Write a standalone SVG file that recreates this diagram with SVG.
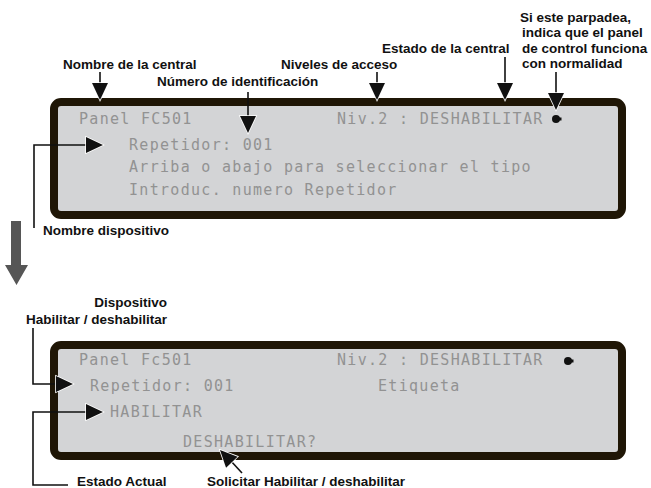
<svg xmlns="http://www.w3.org/2000/svg" width="651" height="488" viewBox="0 0 651 488">
<style>
.panel{fill:#d3d4d6;stroke:#1f1606;stroke-width:8}
.lcd{font-family:"DejaVu Sans Mono","Liberation Mono",monospace;font-size:15px;letter-spacing:1.3px;fill:#929292}
.lbl{font-family:"Liberation Sans",Arial,sans-serif;font-size:13.5px;font-weight:bold;fill:#111}
.ln{fill:none;stroke:#111;stroke-width:1.6}
.ah{fill:#111;stroke:#fff;stroke-width:1.6;paint-order:stroke;stroke-linejoin:miter}
.dot{fill:#111}
</style>
<defs>
<path id="head" d="M0,0 L-8,-17 L8,-17 Z"/>
</defs>
<rect x="0" y="0" width="651" height="488" fill="#fff"/>

<g id="panel1">
<rect class="panel" x="54" y="102" width="568" height="113" rx="7"/>
<text class="lcd" x="79" y="124">Panel FC501</text>
<text class="lcd" x="337" y="124">Niv.2 : DESHABILITAR</text>
<circle class="dot" cx="556" cy="119" r="4"/>
<rect class="dot" x="558" y="117.5" width="3.5" height="3"/>
<text class="lcd" x="129" y="150">Repetidor: 001</text>
<text class="lcd" x="129" y="172">Arriba o abajo para seleccionar el tipo</text>
<text class="lcd" x="129" y="195">Introduc. numero Repetidor</text>
</g>

<g id="panel2">
<rect class="panel" x="54" y="345" width="568" height="111" rx="7"/>
<text class="lcd" x="79" y="365">Panel Fc501</text>
<text class="lcd" x="337" y="365">Niv.2 : DESHABILITAR</text>
<circle class="dot" cx="568" cy="361" r="4"/>
<rect class="dot" x="570" y="359.5" width="3.5" height="3"/>
<text class="lcd" x="90" y="391">Repetidor: 001</text>
<text class="lcd" x="378" y="391">Etiqueta</text>
<text class="lcd" x="110" y="417">HABILITAR</text>
<text class="lcd" x="183" y="447">DESHABILITAR?</text>
</g>

<g id="labels">
<text class="lbl" x="63" y="69">Nombre de la central</text>
<text class="lbl" x="157" y="86">Número de identificación</text>
<text class="lbl" x="281" y="69">Niveles de acceso</text>
<text class="lbl" x="382" y="53">Estado de la central</text>
<text class="lbl" x="520" y="22">Si este parpadea,</text>
<text class="lbl" x="522" y="37">indica que el panel</text>
<text class="lbl" x="522" y="53">de control funciona</text>
<text class="lbl" x="522" y="68">con normalidad</text>
<text class="lbl" x="43" y="235">Nombre dispositivo</text>
<text class="lbl" x="167" y="307" text-anchor="end">Dispositivo</text>
<text class="lbl" x="167" y="324" text-anchor="end">Habilitar / deshabilitar</text>
<text class="lbl" x="77" y="486">Estado Actual</text>
<text class="lbl" x="207" y="486">Solicitar Habilitar / deshabilitar</text>
</g>

<g id="connectors">
<line class="ln" x1="100" y1="72" x2="100" y2="85"/>
<use href="#head" class="ah" transform="translate(100,100)"/>
<line class="ln" x1="248" y1="92" x2="248" y2="118"/>
<use href="#head" class="ah" transform="translate(248,133)"/>
<line class="ln" x1="377" y1="72" x2="377" y2="85"/>
<use href="#head" class="ah" transform="translate(377,100)"/>
<line class="ln" x1="505" y1="57" x2="505" y2="85"/>
<use href="#head" class="ah" transform="translate(505,100)"/>
<line class="ln" x1="556" y1="72" x2="556" y2="95"/>
<use href="#head" class="ah" transform="translate(556,110)"/>
<polyline class="ln" points="34,228 34,145 88,145"/>
<use href="#head" class="ah" transform="translate(103,145) rotate(-90)"/>
<polyline class="ln" points="33,328 33,384 58,384"/>
<use href="#head" class="ah" transform="translate(73,384) rotate(-90)"/>
<polyline class="ln" points="68,485 33,485 33,412 88,412"/>
<use href="#head" class="ah" transform="translate(103,412) rotate(-90)"/>
<line class="ln" x1="242" y1="473" x2="230" y2="460"/>
<use href="#head" class="ah" transform="translate(220,450) rotate(136)"/>
<polygon points="11,221 21,221 21,265 28,265 16.5,285 5,265 11,265" fill="#565656"/>
</g>
</svg>
